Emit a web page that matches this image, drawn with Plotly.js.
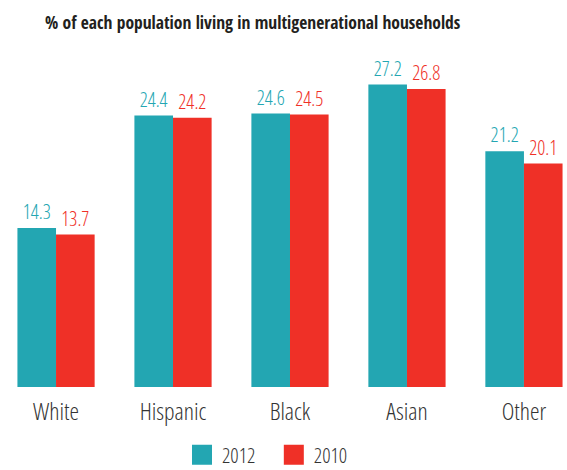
<!DOCTYPE html>
<html><head><meta charset="utf-8">
<script src="https://cdn.plot.ly/plotly-3.0.1.min.js"></script>
<style>body{margin:0;background:#fff}#chart{width:567px;height:470px}
#chart svg text{font-stretch:condensed}</style>
</head><body><div id="chart"></div>
<script>
const categories = ["White", "Hispanic", "Black", "Asian", "Other"];
const values2012 = [14.3, 24.4, 24.6, 27.2, 21.2];
const values2010 = [13.7, 24.2, 24.5, 26.8, 20.1];
const seriesNames = ["2012", "2010"];
const titleText = "% of each population living in multigenerational households";

const teal = "#23a6b2", red = "#ef3027";
const FONT = "Open Sans, Roboto Condensed, sans-serif";
const TFONT = "Open Sans Condensed, Roboto Condensed, sans-serif";

const traces = [
  {type: "bar", x: categories, y: values2012, name: seriesNames[0], marker: {color: teal},
   text: values2012.map(v => v.toFixed(1)), textposition: "outside", cliponaxis: false,
   textfont: {color: teal, size: 24, family: FONT, weight: 300}, showlegend: false, hoverinfo: "none"},
  {type: "bar", x: categories, y: values2010, name: seriesNames[1], marker: {color: red},
   text: values2010.map(v => v.toFixed(1)), textposition: "outside", cliponaxis: false,
   textfont: {color: red, size: 24, family: FONT, weight: 300}, showlegend: false, hoverinfo: "none"},
  {type: "scatter", mode: "markers", x: [null], y: [null], name: seriesNames[0],
   marker: {symbol: "square", size: 16, color: teal, line: {color: teal, width: 4}}},
  {type: "scatter", mode: "markers", x: [null], y: [null], name: seriesNames[1],
   marker: {symbol: "square", size: 16, color: red, line: {color: red, width: 4}}}
];

const layout = {
  width: 567, height: 470,
  margin: {l: 0, r: 0, t: 60, b: 83},
  paper_bgcolor: "#fff", plot_bgcolor: "#fff",
  barmode: "group", bargap: 0.34, bargroupgap: 0,
  font: {family: FONT, color: "#333", weight: 300},
  title: {text: titleText, x: 45/567, xanchor: "left", xref: "paper",
          y: 1 - 23/470, yanchor: "middle", font: {size: 17.5, color: "#231f20", family: TFONT, weight: 700}},
  xaxis: {type: "category", range: [-0.479, 4.368], showgrid: false, zeroline: false,
          showline: false, ticks: "outside", ticklen: 3, tickcolor: "rgba(0,0,0,0)",
          automargin: false,
          tickfont: {size: 24, color: "#333", family: FONT, weight: 300}},
  yaxis: {range: [0, 29.4], visible: false, showgrid: false, zeroline: false, automargin: false},
  showlegend: true,
  legend: {orientation: "h", x: 274/567, xanchor: "center", yref: "container", y: 15/470, yanchor: "middle",
           font: {size: 20.5, color: "#333", family: FONT, weight: 300}, itemwidth: 30, tracegroupgap: 0}
};
Plotly.newPlot("chart", traces, layout, {displayModeBar: false, staticPlot: true});
</script></body></html>
